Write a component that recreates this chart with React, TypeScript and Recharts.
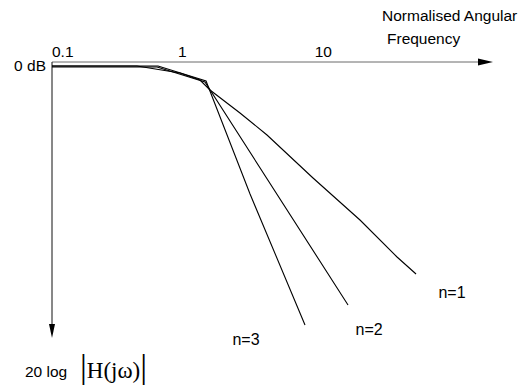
import React from 'react';
import { LineChart, Line, XAxis, YAxis, ReferenceLine, ReferenceDot } from 'recharts';

// x: position along the log-frequency axis (decades), y: gain in dB (schematic)
const xTickValues = [-1, 0, 1.18];
const xTickLabels = ['0.1', '1', '10'];
const yTickValues = [0];
const yTickLabels = ['0 dB'];

const n1X = [-1.09, -0.379, -0.019, 0.148, 0.232, 0.483, 0.709, 1.094, 1.487, 1.797, 1.956];
const n1Y = [0, 0, -1.75, -3.5, -6, -11.75, -17.25, -28, -38.5, -47.75, -52];
const n2X = [-1.09, -0.211, 0.19, 1.387];
const n2Y = [-0.25, -0.25, -4, -59.75];
const n3X = [-1.09, -0.203, 0.199, 0.567, 1.027];
const n3Y = [0, 0, -3.75, -32, -64.75];

const seriesNames = ['n=1', 'n=2', 'n=3'];
const labelX = [2.257, 1.563, 0.533];
const labelY = [-56.5, -65.75, -68.25];

const X_MIN = -1.09;
const X_MAX = 2.6;
const Y_MIN = -68;
const Y_MAX = 1;

const zip = (xs: number[], ys: number[]) => xs.map((x, i) => ({ x, y: ys[i] }));
const series = [zip(n1X, n1Y), zip(n2X, n2Y), zip(n3X, n3Y)];

const FONT = '"Liberation Sans", Arial, sans-serif';
const SERIF = '"Liberation Serif", "Times New Roman", serif';
const FS = 15.5;

const HArrow = (p: any) => {
  const { x1, y1, x2 } = p;
  return (
    <g>
      <line x1={x1} y1={y1} x2={x2 - 12} y2={y1} stroke="#6a6a6a" strokeWidth={1} />
      <polygon points={`${x2 - 15},${y1 - 3.5} ${x2},${y1} ${x2 - 15},${y1 + 3.5}`} fill="#000" />
    </g>
  );
};

const VArrow = (p: any) => {
  const { x1, y1, y2 } = p;
  return (
    <g>
      <line x1={x1} y1={y1} x2={x1} y2={y2 - 12} stroke="#111" strokeWidth={1} />
      <polygon points={`${x1 - 3},${y2 - 14} ${x1},${y2} ${x1 + 3},${y2 - 14}`} fill="#000" />
    </g>
  );
};

const XTick = (p: any) => {
  const i = xTickValues.indexOf(p.payload.value);
  return (
    <text x={p.x} y={56.5} textAnchor="middle" fontFamily={FONT} fontSize={FS} fill="#000">
      {xTickLabels[i]}
    </text>
  );
};

const YTick = (p: any) => {
  const i = yTickValues.indexOf(p.payload.value);
  return (
    <text x={46} y={p.y + 5} textAnchor="end" fontFamily={FONT} fontSize={FS} fill="#000">
      {yTickLabels[i]}
    </text>
  );
};

export default function App() {
  return (
    <div style={{ position: 'absolute', left: 0, top: 0, width: 524, height: 387, background: '#fff' }}>
      <LineChart
        width={524}
        height={387}
        margin={{ top: 32, right: 31, bottom: 49, left: 2 }}
      >
        <XAxis
          type="number"
          dataKey="x"
          orientation="top"
          domain={[X_MIN, X_MAX]}
          ticks={xTickValues}
          height={30}
          axisLine={false}
          tickLine={false}
          tick={XTick}
          interval={0}
          allowDataOverflow
        />
        <YAxis
          type="number"
          dataKey="y"
          domain={[Y_MIN, Y_MAX]}
          ticks={yTickValues}
          width={50}
          axisLine={false}
          tickLine={false}
          tick={YTick}
          interval={0}
          allowDataOverflow
        />
        <ReferenceLine
          segment={[{ x: X_MIN, y: Y_MAX }, { x: X_MAX, y: Y_MAX }]}
          ifOverflow="visible"
          shape={HArrow}
        />
        <ReferenceLine
          segment={[{ x: X_MIN, y: Y_MAX }, { x: X_MIN, y: Y_MIN }]}
          ifOverflow="visible"
          shape={VArrow}
        />
        {series.map((d, i) => (
          <Line
            key={seriesNames[i]}
            data={d}
            dataKey="y"
            type="linear"
            stroke="#000"
            strokeWidth={1.1}
            dot={false}
            activeDot={false}
            isAnimationActive={false}
          />
        ))}
        {seriesNames.map((n, i) => (
          <ReferenceDot
            key={n}
            x={labelX[i]}
            y={labelY[i]}
            r={0}
            fill="none"
            stroke="none"
            ifOverflow="visible"
            label={{ value: n, position: 'center', fontFamily: FONT, fontSize: 16, fill: '#000' }}
          />
        ))}
      </LineChart>
      <svg
        width={524}
        height={387}
        style={{ position: 'absolute', left: 0, top: 0, pointerEvents: 'none' }}
      >
        <text x={382} y={20.5} fontFamily={FONT} fontSize={FS} fill="#000">Normalised Angular</text>
        <text x={387} y={43.5} fontFamily={FONT} fontSize={FS} fill="#000">Frequency</text>
        <text x={25} y={377} fontFamily={FONT} fontSize={FS} fill="#000">20 log</text>
        <text x={80} y={378} fontFamily={SERIF} fill="#000">
          <tspan fontSize={34}>|</tspan>
          <tspan fontSize={23}>H(jω)</tspan>
          <tspan fontSize={34}>|</tspan>
        </text>
      </svg>
    </div>
  );
}
